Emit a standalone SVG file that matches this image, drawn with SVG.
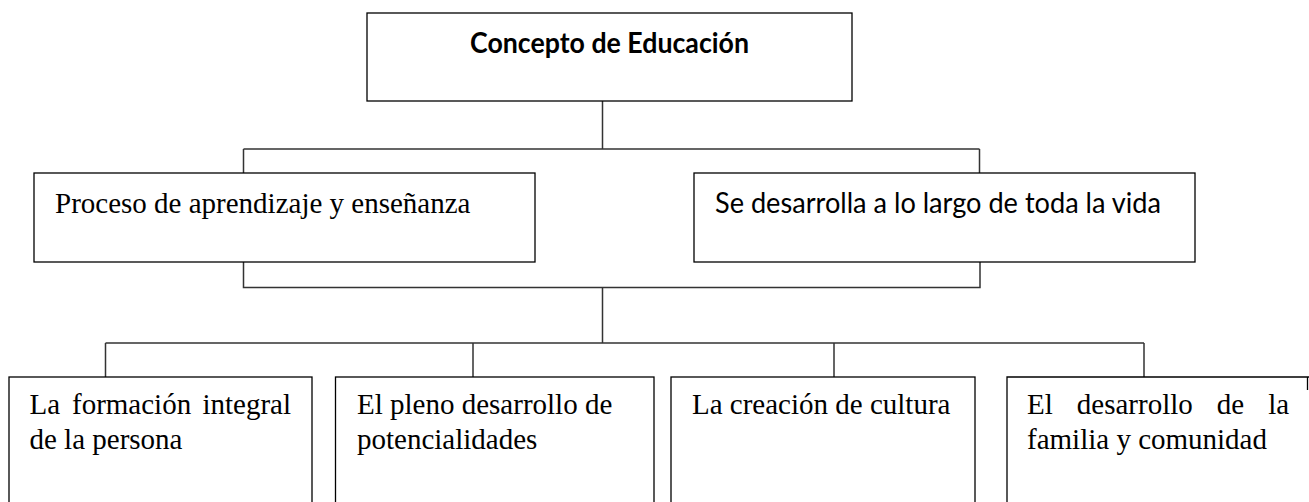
<svg xmlns="http://www.w3.org/2000/svg" width="1309" height="502" viewBox="0 0 1309 502">
<style>
.box{fill:#fff;stroke:#000;stroke-width:1.3}
.con{fill:none;stroke:#333;stroke-width:1.5}
.tnr{font-family:"Liberation Serif","Times New Roman",serif;font-size:29px;fill:#000}
.cal{font-family:Lato,"Open Sans","Liberation Sans",sans-serif;font-size:28.5px;fill:#000}
</style>
<rect width="1309" height="502" fill="#fff"/>
<g id="connectors">
<path class="con" d="M602.5,101 V149 M243.5,149 H979.5 M243.5,149 V173 M979.5,149 V173"/>
<path class="con" d="M243.5,262 V287.5 H980 V262 M602.5,287.5 V343"/>
<path class="con" d="M105.5,343 H1144 M105.5,343 V377 M473,343 V377 M834,343 V377 M1144,343 V377"/>
</g>
<g id="n-concepto">
<rect class="box" x="367" y="13" width="485" height="88"/>
<text class="cal" x="470" y="53" font-weight="bold" textLength="279" lengthAdjust="spacingAndGlyphs">Concepto de Educación</text>
</g>
<g id="n-proceso">
<rect class="box" x="34" y="173" width="501" height="89"/>
<text class="tnr" x="55" y="213">Proceso de aprendizaje y enseñanza</text>
</g>
<g id="n-vida">
<rect class="box" x="694" y="173" width="501" height="89"/>
<text class="cal" x="715" y="213" textLength="446" lengthAdjust="spacingAndGlyphs">Se desarrolla a lo largo de toda la vida</text>
</g>
<g id="n-formacion">
<rect class="box" x="9" y="377" width="303" height="140"/>
<text class="tnr" y="414"><tspan x="29.5">La</tspan><tspan x="72">formación</tspan><tspan x="202.4">integral</tspan></text>
<text class="tnr" x="29.5" y="449">de la persona</text>
</g>
<g id="n-potencialidades">
<rect class="box" x="335.5" y="377" width="318.5" height="140"/>
<text class="tnr" x="357" y="414">El pleno desarrollo de</text>
<text class="tnr" x="357" y="449">potencialidades</text>
</g>
<g id="n-cultura">
<rect class="box" x="671" y="377" width="304" height="140"/>
<text class="tnr" x="692" y="414">La creación de cultura</text>
</g>
<g id="n-familia">
<path class="box" d="M1309,377 H1007 V517 M1307.5,377 V390"/>
<text class="tnr" y="414"><tspan x="1027">El</tspan><tspan x="1076.8">desarrollo</tspan><tspan x="1216.8">de</tspan><tspan x="1268.2">la</tspan></text>
<text class="tnr" x="1027" y="449">familia y comunidad</text>
</g>
</svg>
